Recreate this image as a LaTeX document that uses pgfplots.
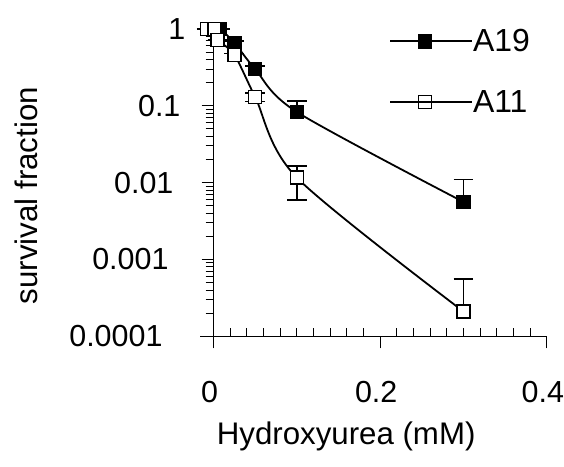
\documentclass[border=0pt]{standalone}
\usepackage{fontspec}
\setmainfont{Liberation Sans}
\usepackage{pgfplots}
\pgfplotsset{compat=1.18}
\newcommand{\ticktxt}{\fontsize{30.5}{37}\selectfont}
\newcommand{\labtxt}{\fontsize{31.3}{38}\selectfont}

\begin{document}
\begin{tikzpicture}
\begin{axis}[
    width=334pt, height=308pt, scale only axis,
    ymode=log,
    xmin=0, xmax=0.4, ymin=1e-4, ymax=1,
    axis lines=left,
    axis line style={-, line width=1pt},
    clip=false,
    font=\ticktxt,
    xtick={0,0.2,0.4}, xticklabels={0,0.2,0.4},
    minor x tick num=9,
    ytick={1e-4,1e-3,1e-2,1e-1,1},
    yticklabels={0.0001\kern23pt, 0.001\kern17pt, 0.01\kern12pt, 0.1\kern5pt, 1},
    tick align=outside,
    major tick length=12pt, minor tick length=8pt,
    tick style={black, line width=1pt},
    minor x tick style={yshift=8pt},
    xticklabel style={anchor=base, inner sep=0pt, yshift=-54pt, xshift=-4pt},
    yticklabel style={anchor=east, inner sep=0pt, xshift=-16pt},
    xlabel={\labtxt Hydroxyurea (mM)},
    xlabel style={at={(axis description cs:0.398,-0.351)}, anchor=base, inner sep=0pt},
    ylabel={\labtxt survival fraction},
    ylabel style={at={(axis description cs:-0.527,0.458)}, anchor=base, inner sep=0pt},
    legend style={at={(0.527,0.999)}, anchor=north west, draw=none, fill=none,
        inner sep=0pt, row sep=37pt, nodes={inner sep=0pt}},
    legend cell align=left,
    legend image code/.code={\draw[mark repeat=2, mark phase=2, #1]
        plot coordinates {(0pt,0pt) (35pt,0pt) (70pt,0pt)};
        \path (0pt,0pt) -- (82pt,0pt);},
]

% A19
\addplot[black, line width=1.8pt, smooth, mark=square*, mark size=6.5pt,
    mark options={solid, fill=black, line width=1.5pt},
    error bars/.cd, y dir=plus, y explicit,
    error bar style={line width=1.5pt},
    error mark options={rotate=90, mark size=10pt, line width=1.5pt}]
coordinates {
    (0.008,1.0)   += (0,0)
    (0.025,0.66)  += (0,0.04)
    (0.05,0.30)   += (0,0.03)
    (0.1,0.083)   += (0,0.032)
    (0.3,0.0056)  += (0,0.0054)
};
\addlegendentry{\fontsize{32}{38}\selectfont A19}

% A11 lower error bars
\addplot[forget plot, draw=none, mark=none,
    error bars/.cd, y dir=minus, y explicit,
    error bar style={draw=black, line width=1.5pt},
    error mark options={draw=black, rotate=90, mark size=10pt, line width=1.5pt}]
coordinates {
    (0.05,0.13)    -= (0,0.017)
    (0.1,0.0116)   -= (0,0.0057)
};

% A11
\addplot[black, line width=1.8pt, smooth, mark=square*, mark size=6.5pt,
    mark options={solid, fill=white, line width=1.5pt},
    error bars/.cd, y dir=plus, y explicit,
    error bar style={line width=1.5pt},
    error mark options={rotate=90, mark size=10pt, line width=1.5pt}]
coordinates {
    (-0.008,1.0)   += (0,0)
    (0.001,1.0)    += (0,0)
    (0.005,0.72)   += (0,0)
    (0.025,0.46)   += (0,0.02)
    (0.05,0.13)    += (0,0.017)
    (0.1,0.0116)   += (0,0.0049)
    (0.3,0.00021)  += (0,0.00035)
};
\addlegendentry{\fontsize{32}{38}\selectfont A11}

\coordinate (O) at (axis cs:0,1e-4);
\draw[line width=1pt] (axis cs:0,1e-4) -- ++(-14pt,0pt);
\draw[line width=1pt] (axis cs:0,1e-4) -- ++(0pt,-11pt);
\end{axis}
\path ([shift={(-214pt,-130pt)}]O) rectangle ([shift={(350pt,337pt)}]O);
\end{tikzpicture}
\end{document}
